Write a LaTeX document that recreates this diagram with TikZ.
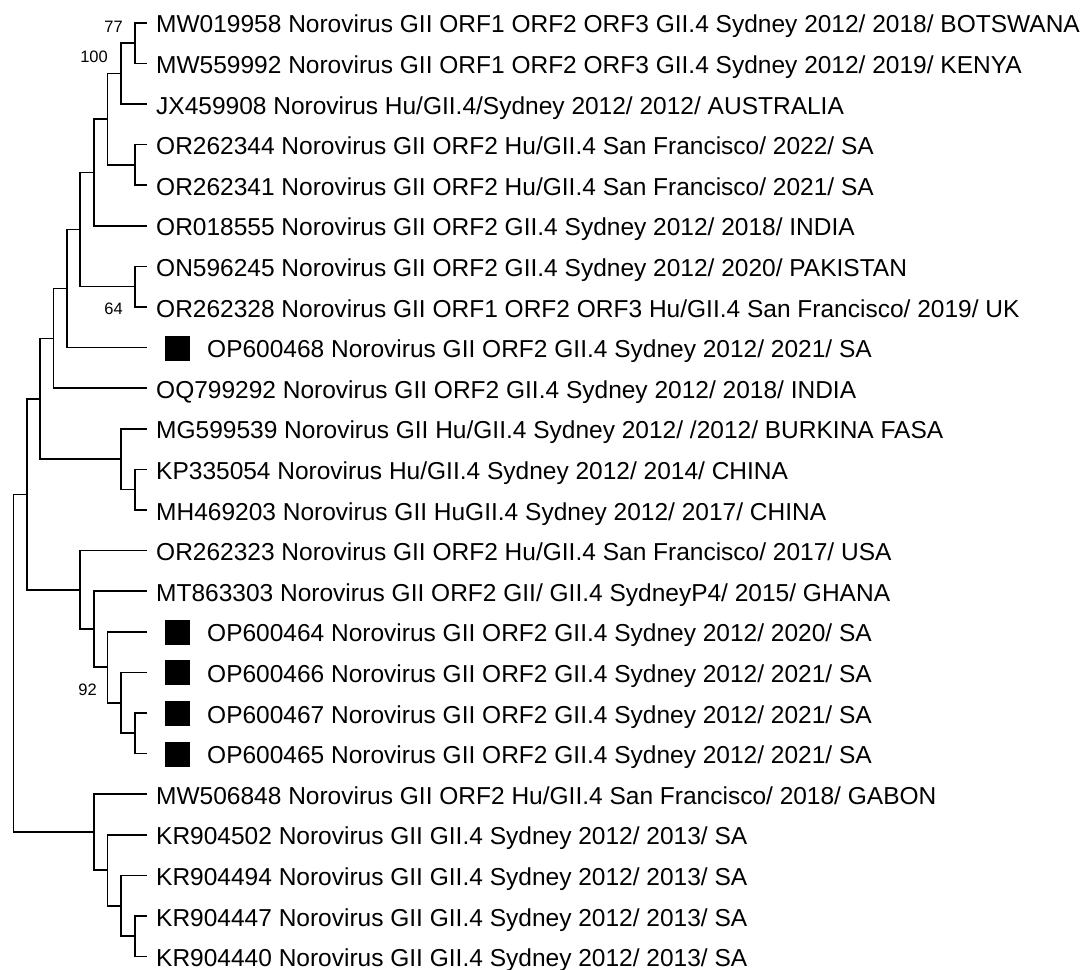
\documentclass[tikz,border=0pt]{standalone}
\usepackage{fontspec}
\setmainfont{Liberation Sans}
\begin{document}
\begin{tikzpicture}[x=1pt,y=-1pt,
  branch/.style={line width=1.6pt,black},
  leaflabel/.style={anchor=base west,inner sep=0pt,font=\fontsize{24.5}{28}\selectfont},
  bootlabel/.style={anchor=base east,inner sep=0pt,font=\fontsize{16.5}{19}\selectfont},
  marker/.style={fill=black,draw=none,minimum size=25pt,inner sep=0pt}]
\useasboundingbox (0,0) rectangle (1083,969);
% leaf tips
\foreach \i/\y in {1/22.7,2/63.3,3/103.9,4/144.5,5/185.1,6/225.7,7/266.3,8/306.9,9/347.5,10/388.1,11/428.7,12/469.3,13/509.9,14/550.5,15/591.1,16/631.7,17/672.3,18/712.9,19/753.5,20/794.1,21/834.7,22/875.3,23/915.9,24/956.5}
  {\coordinate (t\i) at (147,\y);}
% internal nodes
\coordinate (n12) at (135,43);
\coordinate (n123) at (120.7,73.45);
\coordinate (n45) at (135,164.8);
\coordinate (A) at (107.3,119.1);
\coordinate (B) at (94,172.4);
\coordinate (n78) at (135,286.6);
\coordinate (C) at (80,229.5);
\coordinate (D) at (66.7,288.5);
\coordinate (E) at (53.3,338.3);
\coordinate (n1213) at (135,489.6);
\coordinate (MG) at (120.7,459.15);
\coordinate (F) at (40,398.7);
\coordinate (L) at (135,733.2);
\coordinate (K) at (120.7,702.75);
\coordinate (J) at (107.3,667.2);
\coordinate (I) at (94,629.2);
\coordinate (H) at (80,589.85);
\coordinate (G) at (26.7,494.3);
\coordinate (P) at (135,936.2);
\coordinate (O) at (120.7,905.75);
\coordinate (N) at (107.3,870.2);
\coordinate (M) at (94,832.15);
\coordinate (root) at (13.3,663.2);
% branches
\draw[branch] (t1) -| (n12) |- (t2);
\draw[branch] (n12) -| (n123) |- (t3);
\draw[branch] (t4) -| (n45) |- (t5);
\draw[branch] (n123) -| (A) |- (n45);
\draw[branch] (A) -| (B) |- (t6);
\draw[branch] (t7) -| (n78) |- (t8);
\draw[branch] (B) -| (C) |- (n78);
\draw[branch] (C) -| (D) |- (t9);
\draw[branch] (D) -| (E) |- (t10);
\draw[branch] (t12) -| (n1213) |- (t13);
\draw[branch] (t11) -| (MG) |- (n1213);
\draw[branch] (E) -| (F) |- (MG);
\draw[branch] (t18) -| (L) |- (t19);
\draw[branch] (t17) -| (K) |- (L);
\draw[branch] (t16) -| (J) |- (K);
\draw[branch] (t15) -| (I) |- (J);
\draw[branch] (t14) -| (H) |- (I);
\draw[branch] (F) -| (G) |- (H);
\draw[branch] (t23) -| (P) |- (t24);
\draw[branch] (t22) -| (O) |- (P);
\draw[branch] (t21) -| (N) |- (O);
\draw[branch] (t20) -| (M) |- (N);
\draw[branch] (G) -| (root) |- (M);
% bootstrap values
\node[bootlabel] (b77) at (123,32.7) {77};
\node[bootlabel] (b100) at (108,62.3) {100};
\node[bootlabel] (b64) at (123,314.3) {64};
\node[bootlabel] (b92) at (97,695.3) {92};
% leaf labels
\node[leaflabel] (l1) at (156,32.9) {MW019958 Norovirus GII ORF1 ORF2 ORF3 GII.4 Sydney 2012/ 2018/ BOTSWANA};
\node[leaflabel] (l2) at (156,73.5) {MW559992 Norovirus GII ORF1 ORF2 ORF3 GII.4 Sydney 2012/ 2019/ KENYA};
\node[leaflabel] (l3) at (156,114.1) {JX459908 Norovirus Hu/GII.4/Sydney 2012/ 2012/ AUSTRALIA};
\node[leaflabel] (l4) at (156,154.7) {OR262344 Norovirus GII ORF2 Hu/GII.4 San Francisco/ 2022/ SA};
\node[leaflabel] (l5) at (156,195.3) {OR262341 Norovirus GII ORF2 Hu/GII.4 San Francisco/ 2021/ SA};
\node[leaflabel] (l6) at (156,235.9) {OR018555 Norovirus GII ORF2 GII.4 Sydney 2012/ 2018/ INDIA};
\node[leaflabel] (l7) at (156,276.5) {ON596245 Norovirus GII ORF2 GII.4 Sydney 2012/ 2020/ PAKISTAN};
\node[leaflabel] (l8) at (156,317.1) {OR262328 Norovirus GII ORF1 ORF2 ORF3 Hu/GII.4 San Francisco/ 2019/ UK};
\node[marker] (s9) at (177,348) {};
\node[leaflabel] (l9) at (207,357.7) {OP600468 Norovirus GII ORF2 GII.4 Sydney 2012/ 2021/ SA};
\node[leaflabel] (l10) at (156,398.3) {OQ799292 Norovirus GII ORF2 GII.4 Sydney 2012/ 2018/ INDIA};
\node[leaflabel] (l11) at (156,438.9) {MG599539 Norovirus GII Hu/GII.4 Sydney 2012/ /2012/ BURKINA FASA};
\node[leaflabel] (l12) at (156,479.5) {KP335054 Norovirus Hu/GII.4 Sydney 2012/ 2014/ CHINA};
\node[leaflabel] (l13) at (156,520.1) {MH469203 Norovirus GII HuGII.4 Sydney 2012/ 2017/ CHINA};
\node[leaflabel] (l14) at (156,560.7) {OR262323 Norovirus GII ORF2 Hu/GII.4 San Francisco/ 2017/ USA};
\node[leaflabel] (l15) at (156,601.3) {MT863303 Norovirus GII ORF2 GII/ GII.4 SydneyP4/ 2015/ GHANA};
\node[marker] (s16) at (177,632.2) {};
\node[leaflabel] (l16) at (207,641.9) {OP600464 Norovirus GII ORF2 GII.4 Sydney 2012/ 2020/ SA};
\node[marker] (s17) at (177,672.8) {};
\node[leaflabel] (l17) at (207,682.5) {OP600466 Norovirus GII ORF2 GII.4 Sydney 2012/ 2021/ SA};
\node[marker] (s18) at (177,713.4) {};
\node[leaflabel] (l18) at (207,723.1) {OP600467 Norovirus GII ORF2 GII.4 Sydney 2012/ 2021/ SA};
\node[marker] (s19) at (177,754) {};
\node[leaflabel] (l19) at (207,763.7) {OP600465 Norovirus GII ORF2 GII.4 Sydney 2012/ 2021/ SA};
\node[leaflabel] (l20) at (156,804.3) {MW506848 Norovirus GII ORF2 Hu/GII.4 San Francisco/ 2018/ GABON};
\node[leaflabel] (l21) at (156,844.9) {KR904502 Norovirus GII GII.4 Sydney 2012/ 2013/ SA};
\node[leaflabel] (l22) at (156,885.5) {KR904494 Norovirus GII GII.4 Sydney 2012/ 2013/ SA};
\node[leaflabel] (l23) at (156,926.1) {KR904447 Norovirus GII GII.4 Sydney 2012/ 2013/ SA};
\node[leaflabel] (l24) at (156,966.7) {KR904440 Norovirus GII GII.4 Sydney 2012/ 2013/ SA};
\end{tikzpicture}
\end{document}
